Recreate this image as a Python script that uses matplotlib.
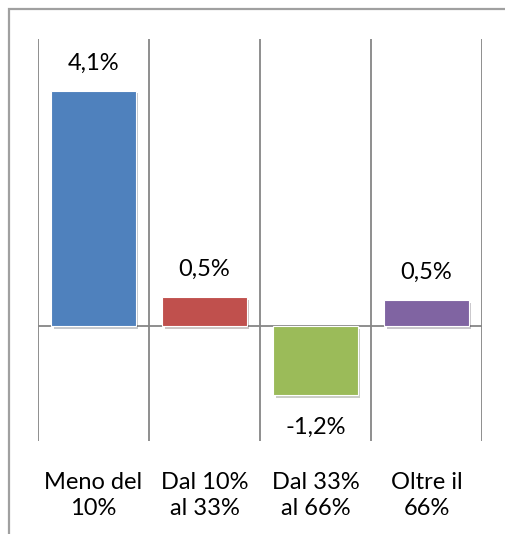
import matplotlib.pyplot as plt
import matplotlib.patheffects as pe
from matplotlib.patches import Rectangle

categories = ['Meno del\n10%', 'Dal 10%\nal 33%', 'Dal 33%\nal 66%', 'Oltre il\n66%']
values = [4.1, 0.5, -1.2, 0.45]
value_labels = ['4,1%', '0,5%', '-1,2%', '0,5%']
colors = ['#4F81BD', '#C0504D', '#9BBB59', '#8064A2']

plt.rcParams['font.family'] = ['Lato', 'DejaVu Sans']

fig = plt.figure(figsize=(5.06, 5.34), dpi=100)
ax = fig.add_axes([38 / 506, 1 - 441 / 534, 444 / 506, 402 / 534])

# outer chart frame (runs off the right and bottom edge)
fig.patches.append(Rectangle((9 / 506, -0.1), 1.2, 1 - 9 / 534 + 0.1,
                             transform=fig.transFigure, fill=False,
                             edgecolor='#a0a0a0', linewidth=1.6))

x = list(range(len(categories)))
bars = ax.bar(x, values, width=0.76, color=colors, edgecolor='white', linewidth=0.8, zorder=3)
for b in bars:
    b.set_path_effects([pe.SimplePatchShadow(offset=(2, -2), alpha=0.25), pe.Normal()])

for xi, v, lab in zip(x, values, value_labels):
    off = 20 if v > 0 else -23
    ax.annotate(lab, (xi, v), xytext=(0, off), textcoords='offset points',
                ha='center', va='center', fontsize=17, color='black')

for gx in [-0.5, 0.5, 1.5, 2.5, 3.5]:
    ax.axvline(gx, color='#868686', linewidth=1.3, zorder=1)
ax.axhline(0, color='#868686', linewidth=1.3, zorder=2)

ax.set_xlim(-0.5, 3.5)
ax.set_ylim(-2, 5)
ax.set_yticks([])
ax.set_xticks(x)
ax.set_xticklabels(categories, fontsize=17, linespacing=1.32)
ax.tick_params(axis='x', length=0, pad=22)
for s in ax.spines.values():
    s.set_visible(False)

fig.savefig('out.png', dpi=100)
